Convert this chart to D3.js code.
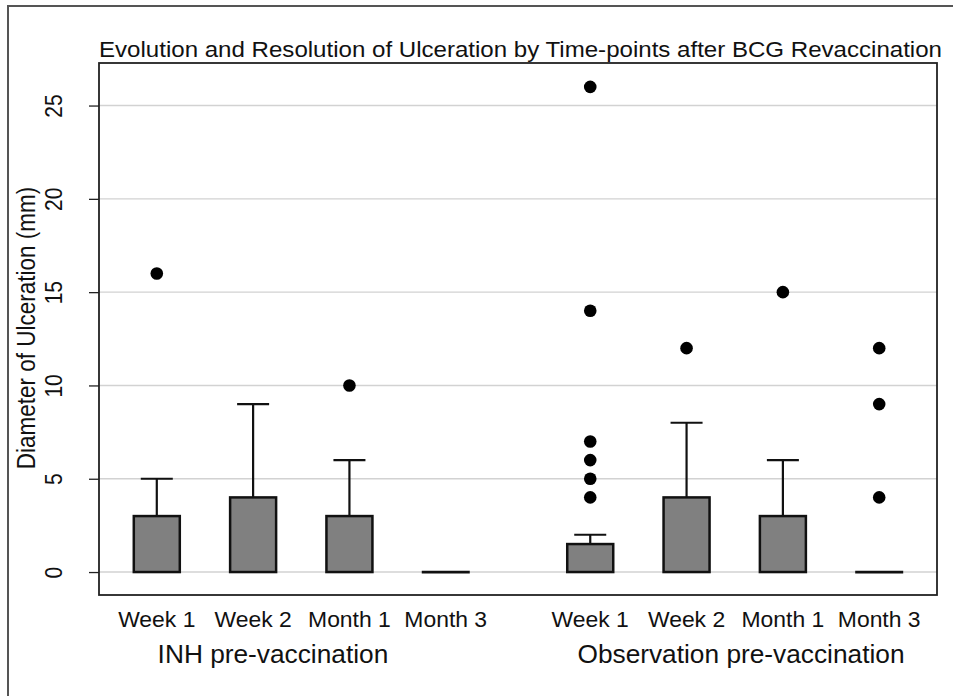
<!DOCTYPE html>
<html>
<head>
<meta charset="utf-8">
<script src="https://cdn.jsdelivr.net/npm/d3@7"></script>
<style>
  html, body { margin: 0; padding: 0; background: #fff; }
  svg { display: block; }
  text { font-family: "Liberation Sans", Arial, sans-serif; fill: #111; }
</style>
</head>
<body>
<svg id="chart" width="953" height="696"></svg>
<script>
// ---------- data ----------
const groups = ["INH pre-vaccination", "Observation pre-vaccination"];
const timepoints = ["Week 1", "Week 2", "Month 1", "Month 3"];
const lowerQuartile = [[0, 0, 0, 0], [0, 0, 0, 0]];
const medianValues = [[0, 0, 0, 0], [0, 0, 0, 0]];
const upperQuartile = [[3, 4, 3, 0], [1.5, 4, 3, 0]];
const upperWhisker = [[5, 9, 6, 0], [2, 8, 6, 0]];
const outliers = [
  [[16], [], [10], []],
  [[4, 5, 6, 7, 14, 26], [12], [15], [4, 9, 12]]
];
const yTicks = [0, 5, 10, 15, 20, 25];
const title = "Evolution and Resolution of Ulceration by Time-points after BCG Revaccination";
const yTitle = "Diameter of Ulceration (mm)";

// ---------- layout ----------
const W = 953, H = 696;
const plot = { left: 99, right: 937, top: 63, bottom: 595 };
const groupGap = 1.5;                 // slots between groups
const groupLabelPos = [1.206, 6.065]; // slot positions of group labels

const svg = d3.select("#chart");

// outer frame
svg.append("rect")
  .attr("x", 8).attr("y", 6).attr("width", W + 20).attr("height", H + 20)
  .attr("fill", "none").attr("stroke", "#555").attr("stroke-width", 2);

// scales
const x = d3.scaleLinear().domain([-0.6, 8.1]).range([plot.left, plot.right]);
const y = d3.scaleLinear().domain([-1.23, 27.28]).range([plot.bottom, plot.top]);
const slotPos = (g, i) => g * (timepoints.length - 1 + groupGap) + i;

// gridlines
svg.append("g").selectAll("line").data(yTicks).join("line")
  .attr("x1", plot.left).attr("x2", plot.right)
  .attr("y1", d => y(d)).attr("y2", d => y(d))
  .attr("stroke", "#d2d2d2").attr("stroke-width", 1.4);

// y axis (ticks + rotated labels)
const yAxis = d3.axisLeft(y).tickValues(yTicks).tickSize(10).tickPadding(0);
const yg = svg.append("g").attr("transform", `translate(${plot.left},0)`).call(yAxis);
yg.select(".domain").remove();
yg.selectAll(".tick line").attr("stroke", "#222").attr("stroke-width", 1.3);
yg.selectAll(".tick text")
  .attr("x", null).attr("dy", null)
  .attr("font-size", 21)
  .attr("font-family", '"Liberation Sans", Arial, sans-serif')
  .attr("text-anchor", "middle")
  .attr("fill", "#111")
  .attr("transform", "translate(-37,0) scale(1.14,1) rotate(-90)");

// boxes
const boxW = 46, capW = 32;
const items = [];
groups.forEach((g, gi) => timepoints.forEach((t, ti) => {
  items.push({
    gi, ti, pos: slotPos(gi, ti),
    q1: lowerQuartile[gi][ti], med: medianValues[gi][ti],
    q3: upperQuartile[gi][ti], hi: upperWhisker[gi][ti],
    out: outliers[gi][ti]
  });
}));

const bx = svg.append("g");
items.forEach(d => {
  const cx = x(d.pos);
  if (d.hi > d.q3) {
    bx.append("line").attr("x1", cx).attr("x2", cx)
      .attr("y1", y(d.q3)).attr("y2", y(d.hi))
      .attr("stroke", "#111").attr("stroke-width", 2.2);
    bx.append("line").attr("x1", cx - capW / 2).attr("x2", cx + capW / 2)
      .attr("y1", y(d.hi)).attr("y2", y(d.hi))
      .attr("stroke", "#111").attr("stroke-width", 2.2);
  }
  if (d.q3 > d.q1) {
    bx.append("rect")
      .attr("x", cx - boxW / 2).attr("width", boxW)
      .attr("y", y(d.q3)).attr("height", y(d.q1) - y(d.q3))
      .attr("fill", "#808080").attr("stroke", "#111").attr("stroke-width", 2.5);
  } else {
    bx.append("line").attr("x1", cx - boxW / 2 - 1).attr("x2", cx + boxW / 2 + 1)
      .attr("y1", y(d.med)).attr("y2", y(d.med))
      .attr("stroke", "#111").attr("stroke-width", 2.8);
  }
  bx.selectAll(null).data(d.out).enter().append("circle")
    .attr("cx", cx).attr("cy", v => y(v)).attr("r", 6.3).attr("fill", "#000");
});

// plot frame
svg.append("rect")
  .attr("x", plot.left).attr("y", plot.top)
  .attr("width", plot.right - plot.left).attr("height", plot.bottom - plot.top)
  .attr("fill", "none").attr("stroke", "#222").attr("stroke-width", 1.8);

// helper: horizontally stretched text
function stretch(sel, factor) {
  sel.each(function () {
    const n = this.getComputedTextLength();
    d3.select(this).attr("textLength", n * factor).attr("lengthAdjust", "spacingAndGlyphs");
  });
}

// x category labels
const xl = svg.append("g").selectAll("text").data(items).join("text")
  .attr("x", d => x(d.pos)).attr("y", 627)
  .attr("text-anchor", "middle").attr("font-size", 21.5)
  .text(d => timepoints[d.ti]);
stretch(xl, 1.065);

// group labels
const gl = svg.append("g").selectAll("text").data(groups).join("text")
  .attr("x", (d, i) => x(groupLabelPos[i])).attr("y", 663)
  .attr("text-anchor", "middle").attr("font-size", 25.5)
  .text(d => d);
stretch(gl, 1.03);

// title
svg.append("text")
  .attr("x", plot.left).attr("y", 56.5)
  .attr("font-size", 21.5)
  .attr("textLength", 843).attr("lengthAdjust", "spacingAndGlyphs")
  .text(title);

// y title
svg.append("text")
  .attr("transform", `translate(35,${(plot.top + plot.bottom) / 2 - 1}) scale(1.15,1) rotate(-90)`)
  .attr("text-anchor", "middle").attr("font-size", 22.5)
  .text(yTitle);
</script>
</body>
</html>
